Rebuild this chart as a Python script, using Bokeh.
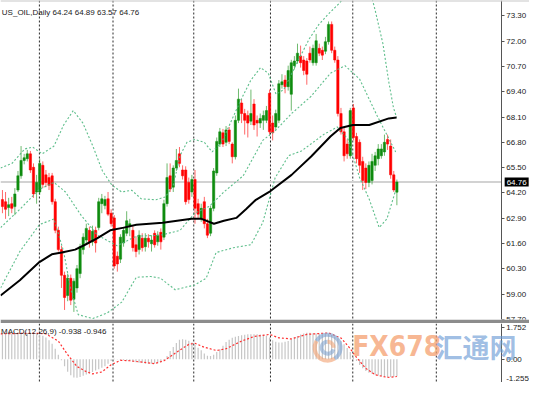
import numpy as np
from bokeh.plotting import figure
from bokeh.layouts import column
from bokeh.models import Range1d, Span, Label, FixedTicker, PrintfTickFormatter, ColumnDataSource
from bokeh.embed import file_html
from bokeh.resources import INLINE

# ---------------- data ----------------
chart_title = "US_OIL,Daily  64.24 64.89 63.57 64.76"
macd_title = "MACD(12,26,9) -0.938 -0.946"
last_price = 64.76

opens = [63.86, 63.75, 63.45, 63.65, 63.50, 64.35, 65.08, 65.87, 65.96, 66.21,
         65.52, 64.25, 64.25, 65.62, 65.13, 64.99, 65.08, 63.75, 62.28, 61.29,
         59.97, 58.93, 59.82, 58.74, 59.32, 60.06, 61.29, 61.78, 62.28, 61.69,
         62.28, 62.42, 63.65, 63.55, 63.90, 63.16, 62.92, 60.95, 60.80, 61.63,
         62.13, 62.47, 62.28, 61.54, 61.29, 61.88, 61.44, 61.88, 61.59, 62.13,
         61.69, 62.18, 61.93, 63.65, 65.08, 64.50, 65.48, 66.21, 65.38, 65.38,
         64.74, 64.25, 64.89, 63.65, 62.87, 63.75, 62.62, 62.13, 63.41, 65.23,
         66.71, 67.29, 66.80, 67.44, 66.71, 66.06, 67.93, 68.82, 68.28, 68.18,
         67.89, 68.77, 67.93, 67.79, 67.93, 67.93, 69.32, 67.79, 67.59, 67.93,
         69.76, 70.00, 69.66, 69.27, 70.74, 70.98, 71.23, 71.03, 70.98, 71.38,
         70.89, 70.89, 71.63, 71.53, 71.48, 71.97, 72.86, 71.53, 71.03, 68.28,
         67.34, 66.71, 66.11, 68.57, 67.10, 66.80, 65.82, 65.48, 64.74, 64.84,
         65.62, 65.96, 66.11, 66.31, 66.95, 66.61, 65.13, 64.24]
closes = [63.50, 63.36, 63.60, 63.41, 64.15, 65.08, 65.87, 66.01, 66.21, 65.38,
          64.15, 64.74, 65.72, 64.64, 64.74, 64.59, 63.75, 62.28, 61.29, 59.97,
          58.83, 59.82, 58.69, 59.67, 60.31, 61.44, 61.93, 62.38, 61.69, 62.23,
          61.63, 63.75, 63.90, 63.86, 63.11, 62.62, 60.45, 60.55, 61.93, 62.28,
          62.77, 62.62, 61.39, 61.19, 62.03, 61.39, 61.88, 61.69, 61.78, 61.54,
          62.03, 61.69, 63.65, 64.99, 64.40, 65.48, 65.87, 65.72, 65.08, 63.75,
          63.86, 64.89, 63.41, 63.11, 63.41, 62.62, 62.03, 63.41, 65.33, 66.85,
          67.34, 66.71, 67.44, 66.85, 66.06, 67.93, 69.02, 68.28, 67.93, 67.79,
          68.28, 67.69, 67.79, 68.03, 68.18, 68.43, 67.34, 67.29, 68.28, 69.81,
          69.91, 69.66, 70.49, 70.89, 70.98, 71.38, 70.89, 70.49, 70.30, 71.03,
          71.63, 72.02, 71.38, 71.28, 71.97, 72.86, 71.53, 71.03, 68.28, 67.34,
          66.11, 66.21, 68.43, 67.05, 65.96, 65.62, 64.84, 64.74, 65.62, 65.82,
          66.11, 66.46, 66.46, 66.80, 66.71, 65.13, 64.35, 64.76]
highs = [64.35, 64.25, 63.95, 64.00, 64.45, 65.33, 66.61, 66.21, 66.41, 66.36,
         65.72, 65.13, 65.96, 65.82, 65.38, 65.23, 65.23, 63.90, 62.47, 61.49,
         60.16, 60.06, 60.01, 59.82, 60.50, 61.59, 62.13, 62.62, 62.47, 62.52,
         62.47, 63.95, 64.15, 64.05, 64.25, 63.36, 63.06, 61.19, 62.08, 62.47,
         63.26, 62.87, 62.52, 61.98, 62.28, 62.13, 62.13, 62.08, 62.03, 62.28,
         62.23, 62.38, 63.85, 65.72, 65.72, 65.62, 66.46, 66.56, 65.62, 65.57,
         64.99, 65.13, 65.38, 63.90, 63.65, 64.00, 62.87, 63.55, 65.48, 67.05,
         67.54, 67.49, 67.64, 67.59, 66.80, 68.18, 69.56, 69.02, 68.52, 68.43,
         69.51, 69.02, 68.18, 68.28, 68.43, 68.67, 69.51, 68.18, 68.48, 70.00,
         70.30, 70.25, 70.74, 71.04, 71.23, 71.87, 71.77, 71.23, 71.13, 71.72,
         71.82, 72.37, 71.87, 71.72, 72.22, 73.01, 73.01, 71.72, 71.23, 68.57,
         67.54, 66.95, 68.57, 68.77, 67.29, 66.95, 66.06, 65.72, 65.82, 66.21,
         66.31, 66.71, 66.71, 67.20, 67.20, 66.95, 65.33, 64.89]
lows = [63.16, 62.87, 63.01, 63.16, 63.06, 64.25, 64.93, 65.67, 65.82, 65.23,
        63.95, 63.65, 64.10, 64.45, 64.50, 64.35, 63.60, 62.13, 61.19, 59.32,
        58.19, 58.64, 58.44, 58.09, 59.08, 59.82, 61.04, 61.59, 61.39, 61.49,
        61.14, 62.28, 63.16, 63.36, 63.01, 62.47, 60.31, 60.16, 60.60, 61.44,
        61.98, 61.98, 61.19, 60.90, 61.04, 61.19, 61.19, 61.39, 61.19, 61.39,
        61.49, 61.29, 61.78, 63.50, 64.25, 64.25, 65.33, 65.52, 64.89, 63.60,
        63.65, 64.00, 62.62, 62.87, 62.72, 62.38, 61.88, 61.98, 63.26, 65.08,
        66.56, 66.56, 66.61, 66.71, 65.72, 65.92, 67.79, 67.79, 67.20, 67.05,
        67.69, 67.44, 67.10, 67.54, 67.44, 67.79, 67.20, 66.90, 67.44, 67.79,
        69.56, 69.32, 69.46, 68.43, 70.54, 70.84, 70.64, 70.25, 69.76, 70.89,
        70.74, 70.74, 71.23, 71.03, 71.33, 71.82, 71.38, 70.89, 68.13, 67.20,
        65.82, 65.96, 65.96, 66.90, 65.72, 65.23, 64.35, 64.40, 64.50, 64.64,
        65.33, 65.62, 65.96, 66.11, 66.41, 64.93, 64.25, 63.57]

# moving average (black), read at some bars
ma_bar = [-0.6, 5.6, 11.9, 15.9, 19.1, 23.4, 26.6, 30.6, 34.7, 39.1, 43.1, 51.6, 60.9, 64.1,
          68.1, 71.3, 75.3, 78.4, 81.6, 86.3, 93.1, 99.4, 105.6, 108.8, 112.8, 118.1, 124.4, 126.9]
ma_val = [58.93, 59.72, 60.65, 61.05, 61.14, 61.29, 61.54, 61.88, 62.28, 62.42, 62.57, 62.67, 62.87, 62.87,
          62.62, 62.77, 62.92, 63.36, 63.85, 64.30, 65.13, 66.07, 67.10, 67.54, 67.69, 67.69, 68.03, 68.08]

# Bollinger bands (green dotted), read at some bars
bb_up_bar = [-0.6, 3.1, 7.2, 9.7, 12.8, 16.6, 19.7, 22.8, 25.9, 29.1, 32.2, 35.3, 38.4, 41.6, 44.7,
             49.4, 52.5, 55.0, 57.2, 59.4, 61.9, 65.0, 67.5, 70.6, 73.8, 76.9, 80.0, 83.1, 85.6, 88.1,
             90.6, 94.7, 98.8, 101.9, 104.7, 107.8, 110.6, 113.8, 116.9, 118.8, 120.0, 122.5, 124.4,
             125.9, 126.9]
bb_up = [65.48, 65.72, 66.46, 66.56, 66.21, 66.61, 67.69, 68.43, 67.79, 66.61, 65.33, 64.59, 64.25, 64.34,
         63.90, 63.85, 64.00, 64.59, 66.12, 66.80, 66.95, 66.80, 66.31, 66.80, 67.94, 69.02, 70.00, 70.64,
         70.35, 69.27, 69.51, 70.84, 72.12, 72.86, 73.35, 73.84, 74.33, 75.32, 75.32, 74.33, 73.59, 71.87,
         69.90, 68.58, 68.08]
bb_mid_bar = [-0.6, 5.6, 11.9, 16.6, 20.3, 25.3, 30.6, 36.9, 43.1, 50.9, 57.2, 61.9, 66.6, 71.3, 77.5,
              83.8, 87.8, 93.1, 99.4, 105.6, 110.3, 115.0, 120.6, 126.6]
bb_mid = [62.42, 63.36, 64.39, 64.74, 64.25, 63.06, 62.03, 61.49, 61.98, 62.03, 62.28, 63.16, 63.51, 64.25,
          65.08, 66.90, 67.39, 68.28, 69.17, 70.35, 70.74, 70.05, 68.18, 66.31]
bb_low_bar = [-0.6, 5.6, 11.9, 16.6, 19.7, 21.9, 24.4, 29.1, 33.8, 38.4, 43.1, 47.8, 50.9, 55.6, 61.9,
              65.6, 68.8, 74.4, 80.0, 83.8, 87.8, 92.2, 96.3, 103.4, 107.8, 111.3, 115.0, 118.1, 121.3,
              123.8, 126.6]
bb_low = [59.32, 61.19, 62.57, 62.87, 61.19, 59.32, 57.95, 57.75, 58.04, 58.59, 59.87, 59.91, 59.82, 59.23,
          59.47, 59.82, 61.14, 61.39, 61.54, 62.67, 64.98, 66.12, 66.36, 67.20, 67.59, 66.95, 64.98, 63.88,
          62.42, 62.87, 64.33]

# MACD main (histogram) per bar and signal line read at some bars
macd_hist = [1.38, 1.39, 1.40, 1.40, 1.41, 1.42, 1.44, 1.45, 1.45, 1.43, 1.40, 1.38,
             1.36, 1.30, 1.20, 1.05, 0.85, 0.58, 0.25, -0.05, -0.38, -0.68, -0.88, -1.00,
             -1.02, -0.98, -0.90, -0.84, -0.78, -0.70, -0.62, -0.55, -0.47, -0.38, -0.25, -0.10,
             0.03, 0.02, -0.05, -0.06, -0.08, -0.10, -0.13, -0.16, -0.19, -0.21, -0.23, -0.25,
             -0.25, -0.23, -0.20, -0.17, -0.05, 0.18, 0.45, 0.68, 0.90, 1.08, 1.10, 1.08,
             1.02, 0.92, 0.80, 0.64, 0.50, 0.32, 0.20, 0.18, 0.25, 0.40, 0.55, 0.75,
             0.95, 1.08, 1.18, 1.24, 1.28, 1.32, 1.35, 1.37, 1.38, 1.38, 1.37, 1.36,
             1.35, 1.30, 1.20, 1.05, 0.96, 0.92, 0.92, 0.96, 1.00, 1.10, 1.20, 1.28,
             1.36, 1.42, 1.46, 1.46, 1.43, 1.42, 1.41, 1.40, 1.40, 1.38, 1.34, 1.25,
             1.15, 1.00, 0.82, 0.62, 0.40, 0.15, -0.10, -0.32, -0.50, -0.64, -0.74, -0.80,
             -0.85, -0.89, -0.93, -0.95, -0.97, -0.98, -0.96, -0.938]
sig_bar = [-0.6, 6, 12, 14, 18, 21, 24, 27, 29, 32, 35, 38, 41, 45, 49, 52, 56, 60, 62, 65, 69, 72,
           77, 81, 86, 89, 93, 98, 105, 109, 112, 114, 117, 120, 124, 127]
sig_val = [1.40, 1.42, 1.42, 1.40, 1.00, 0.25, -0.40, -0.68, -0.80, -0.70, -0.30, -0.06, -0.08, -0.16,
           -0.24, -0.08, 0.38, 0.82, 0.88, 0.66, 0.48, 0.58, 1.00, 1.25, 1.37, 1.18, 1.12, 1.37, 1.45,
           1.17, 0.58, 0.10, -0.50, -0.85, -1.00, -0.946]

price_ticks = [73.30, 72.00, 70.70, 69.40, 68.10, 66.80, 65.50, 64.20, 62.90, 61.60, 60.30, 59.00, 57.70]
macd_ticks = [1.752, 0.0, -1.255]
macd_tick_labels = ["1.752", "0.00", "-1.255"]
grid_bars = [11.9, 35.6, 61.6, 86.3, 112.8, 139.7]

# ---------------- styling / layout ----------------
W = 529
H_MAIN_FRAME = 319
SEP = 4
H_MACD = 59
GREEN = "#0f8c0f"
RED = "#ff0000"
BB_COL = "#4cb77e"
FONT = "Liberation Sans"
X0, X_AXIS, X1 = -0.625, 160.6, 169.7   # left edge, price-scale line, right edge (bar units)

x_range = Range1d(X0, X1)


def make_fig(height, y0, y1, bottom_border=0):
    f = figure(width=W, height=height, x_range=x_range, y_range=Range1d(y0, y1),
               output_backend="svg", toolbar_location=None, x_axis_location=None,
               y_axis_location="right", min_border_left=0, min_border_right=0,
               min_border_top=0, min_border_bottom=bottom_border)
    f.outline_line_color = None
    f.grid.visible = False
    f.background_fill_color = "white"
    f.border_fill_color = "#8c8c8c" if bottom_border else "white"
    ax = f.yaxis[0]
    ax.fixed_location = X_AXIS
    ax.axis_line_color = "#555555"
    ax.axis_line_width = 1
    ax.major_tick_line_color = "#555555"
    ax.major_tick_out = 3
    ax.major_tick_in = 0
    ax.minor_tick_line_color = None
    ax.major_label_text_font = FONT
    ax.major_label_text_font_size = "8px"
    ax.major_label_text_color = "#222222"
    ax.major_label_standoff = 2
    for gx in grid_bars:
        f.add_layout(Span(location=gx, dimension="height", line_color="#2a2a2a",
                          line_dash="2 2", line_width=1, level="underlay"))
    return f


P_TOP, P_BOT = 74.087, 57.70
p = make_fig(H_MAIN_FRAME + SEP, P_BOT, P_TOP, bottom_border=SEP)
p.yaxis.ticker = FixedTicker(ticks=price_ticks)
p.yaxis.formatter = PrintfTickFormatter(format="%.2f")

p.line([X0, X_AXIS], [last_price, last_price], line_color="#d2d2d2", line_width=2)
p.add_layout(Span(location=P_TOP, dimension="width", line_color="#c8c8c8", line_width=2))

o = np.array(opens)
c = np.array(closes)
up = c >= o
src = ColumnDataSource(dict(
    x=list(range(len(closes))), h=highs, l=lows,
    top=np.maximum(o, c), bot=np.minimum(o, c),
    col=np.where(up, GREEN, RED)))

p.segment(x0="x", y0="l", x1="x", y1="h", source=src, line_color="col", line_width=1, line_alpha=0.6)
p.vbar(x="x", width=0.75, top="top", bottom="bot", source=src, fill_color="col",
       line_color="col", line_width=0.5)

for bx, by in ((bb_up_bar, bb_up), (bb_mid_bar, bb_mid), (bb_low_bar, bb_low)):
    p.line(bx, by, line_color=BB_COL, line_dash="2 2", line_width=1.1, line_alpha=0.9)

p.line(ma_bar, ma_val, line_color="black", line_width=2)

p.add_layout(Label(x=-0.2, y=73.47, text=chart_title, text_font=FONT, text_font_size="8px",
                   text_color="#1a1a1a", text_baseline="middle"))
p.add_layout(Label(x=161.7, y=last_price, text="%.2f" % last_price, text_font=FONT,
                   text_font_size="8px", text_color="white", text_baseline="middle",
                   background_fill_color="black", padding=2))

# ---------------- MACD panel ----------------
M_TOP, M_BOT = 1.968, -1.277
m = make_fig(H_MACD, M_BOT, M_TOP)
m.yaxis.ticker = FixedTicker(ticks=macd_ticks)
# the lowest label sits on the panel's bottom edge: draw it slightly raised so it stays whole
m.yaxis.major_label_overrides = {macd_ticks[0]: macd_tick_labels[0],
                                 macd_ticks[1]: macd_tick_labels[1],
                                 macd_ticks[2]: ""}
m.add_layout(Label(x=X_AXIS + 1.6, y=-1.03, text=macd_tick_labels[2], text_font=FONT,
                   text_font_size="8px", text_color="#222222", text_baseline="middle"))

m.segment(x0=list(range(len(macd_hist))), y0=[0] * len(macd_hist),
          x1=list(range(len(macd_hist))), y1=macd_hist, line_color="#c6c6c6", line_width=1.2)
m.line(sig_bar, sig_val, line_color="#ff3030", line_dash="2 2", line_width=1.2)

# watermark
LX, LY = 104.7, 0.64
for r0, r1, a0, a1, col, al in ((11, 15, -1.0, 2.6, "#7aa0d0", 0.6),
                                (11, 15, 2.6, 5.28, "#f2a070", 0.6),
                                (4, 8, 1.6, 6.0, "#7aa0d0", 0.55),
                                (4, 8, 0.0, 1.6, "#f2a070", 0.55)):
    m.annular_wedge(x=LX, y=LY, inner_radius=r0, outer_radius=r1, inner_radius_units="screen",
                    outer_radius_units="screen", start_angle=a0, end_angle=a1,
                    fill_color=col, line_color=None, fill_alpha=al)
m.add_layout(Label(x=112.6, y=0.72, text="FX678",
                   text_font="Liberation Sans Narrow, DejaVu Sans Condensed, sans-serif",
                   text_font_style="bold", text_font_size="28px", text_color="#f5a070",
                   text_alpha=0.75, text_baseline="middle"))
m.add_layout(Label(x=139.4, y=0.72, text="汇通网", text_font="Noto Sans CJK SC",
                   text_font_style="bold", text_font_size="27px", text_color="#6a9ad4",
                   text_alpha=0.65, text_baseline="middle"))

m.add_layout(Label(x=-0.45, y=1.55, text=macd_title, text_font=FONT, text_font_size="8px",
                   text_color="#1a1a1a", text_baseline="middle"))

layout = column(p, m)
open("out.html", "w").write(file_html(layout, INLINE))
